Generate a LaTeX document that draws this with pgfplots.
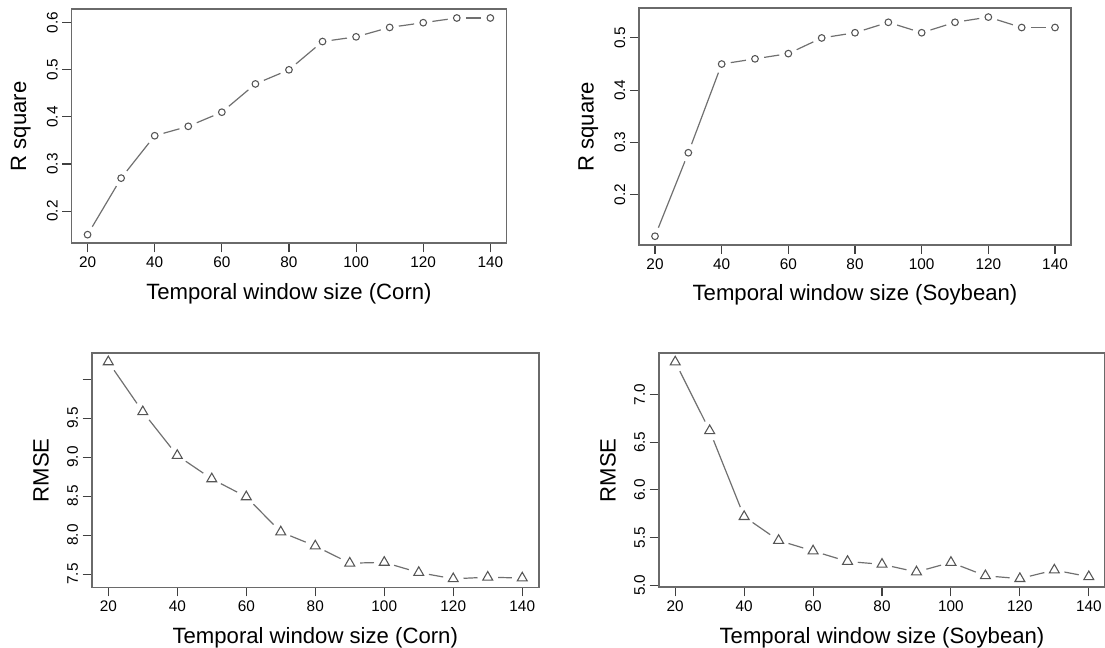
\documentclass[border=0pt]{standalone}
\usepackage{fontspec}
\setmainfont{Liberation Sans}
\usepackage{pgfplots}
\usepackage{pgfplotstable}
\pgfplotsset{compat=1.18}
\definecolor{lc}{HTML}{707070}
\definecolor{mc}{HTML}{555555}
\definecolor{bc}{HTML}{6A6A6A}

\pgfplotstableread{
x y
20 0.15
30 0.27
40 0.36
50 0.38
60 0.41
70 0.47
80 0.50
90 0.56
100 0.57
110 0.59
120 0.60
130 0.61
140 0.61
}\cornR
\pgfplotstableread{
x y
20 0.12
30 0.28
40 0.45
50 0.46
60 0.47
70 0.50
80 0.51
90 0.53
100 0.51
110 0.53
120 0.54
130 0.52
140 0.52
}\soyR
\pgfplotstableread{
x y
20 10.22
30 9.58
40 9.02
50 8.72
60 8.49
70 8.04
80 7.86
90 7.64
100 7.65
110 7.52
120 7.44
130 7.46
140 7.45
}\cornE
\pgfplotstableread{
x y
20 7.34
30 6.62
40 5.72
50 5.47
60 5.36
70 5.25
80 5.22
90 5.14
100 5.24
110 5.10
120 5.07
130 5.16
140 5.09
}\soyE

\pgfplotsset{
  rstyle/.style={
    scale only axis, axis on top,
    xmin=15.2, xmax=144.8,
    xtick={20,40,...,140},
    tick align=outside, major tick length=6.75pt,
    xtick pos=left, ytick pos=left,
    axis line style={bc, line width=1.3pt},
    every tick/.style={black!75, line width=0.8pt},
    /pgf/number format/assume math mode=true,
    ticklabel style={font=\fontsize{11.5}{13}\selectfont},
    yticklabel style={rotate=90, anchor=south},
    xticklabel style={anchor=north},
    label style={font=\fontsize{16.6}{19}\selectfont},
    xlabel style={at={([yshift=-37.5pt]axis description cs:0.5,0)}, anchor=center},
    ylabel style={at={([xshift=-38pt]axis description cs:0,0.5)}, anchor=center},
  },
  segc/.style={lc, line width=0.9pt, no marks, shorten >=6.9pt, shorten <=6.9pt},
  segt/.style={lc, line width=0.9pt, no marks, shorten >=7.7pt, shorten <=7.7pt},
  circ/.style={only marks, mark=o, mark size=2.5pt, mark options={mc, line width=0.8pt}},
  tri/.style={only marks, mark=triangle, mark size=4.3pt, mark options={mc, line width=0.8pt}},
}
\newcommand\segC[4]{\addplot[segc] coordinates {(#1,#2) (#3,#4)};}
\newcommand\segT[4]{\addplot[segt] coordinates {(#1,#2) (#3,#4)};}

\begin{document}
\begin{tikzpicture}
\path[use as bounding box] (0,0) rectangle (828.75pt,486pt);

\begin{axis}[rstyle, at={(53.6pt,303.5pt)}, anchor=south west,
  width=326.25pt, height=175.5pt,
  ymin=0.1316, ymax=0.6284,
  ytick={0.2,0.3,0.4,0.5,0.6}, yticklabels={0.2,0.3,0.4,0.5,0.6},
  xlabel={Temporal window size (Corn)}, ylabel={R square}]
\segC{20}{0.15}{30}{0.27}\segC{30}{0.27}{40}{0.36}\segC{40}{0.36}{50}{0.38}
\segC{50}{0.38}{60}{0.41}\segC{60}{0.41}{70}{0.47}\segC{70}{0.47}{80}{0.50}
\segC{80}{0.50}{90}{0.56}\segC{90}{0.56}{100}{0.57}\segC{100}{0.57}{110}{0.59}
\segC{110}{0.59}{120}{0.60}\segC{120}{0.60}{130}{0.61}\segC{130}{0.61}{140}{0.61}
\addplot[circ] table {\cornR};
\end{axis}

\begin{axis}[rstyle, at={(479.25pt,302.25pt)}, anchor=south west,
  width=324pt, height=177.5pt,
  ymin=0.1032, ymax=0.5568,
  ytick={0.2,0.3,0.4,0.5}, yticklabels={0.2,0.3,0.4,0.5},
  xlabel={Temporal window size (Soybean)}, ylabel={R square}]
\segC{20}{0.12}{30}{0.28}\segC{30}{0.28}{40}{0.45}\segC{40}{0.45}{50}{0.46}
\segC{50}{0.46}{60}{0.47}\segC{60}{0.47}{70}{0.50}\segC{70}{0.50}{80}{0.51}
\segC{80}{0.51}{90}{0.53}\segC{90}{0.53}{100}{0.51}\segC{100}{0.51}{110}{0.53}
\segC{110}{0.53}{120}{0.54}\segC{120}{0.54}{130}{0.52}\segC{130}{0.52}{140}{0.52}
\addplot[circ] table {\soyR};
\end{axis}

\begin{axis}[rstyle, at={(68.8pt,45.4pt)}, anchor=south west,
  width=335.3pt, height=175.7pt,
  ymin=7.3288, ymax=10.3312,
  ytick={7.5,8.0,8.5,9.0,9.5,10.0}, yticklabels={7.5,8.0,8.5,9.0,9.5,{}},
  xlabel={Temporal window size (Corn)}, ylabel={RMSE}]
\segT{20}{10.22}{30}{9.58}\segT{30}{9.58}{40}{9.02}\segT{40}{9.02}{50}{8.72}
\segT{50}{8.72}{60}{8.49}\segT{60}{8.49}{70}{8.04}\segT{70}{8.04}{80}{7.86}
\segT{80}{7.86}{90}{7.64}\segT{90}{7.64}{100}{7.65}\segT{100}{7.65}{110}{7.52}
\segT{110}{7.52}{120}{7.44}\segT{120}{7.44}{130}{7.46}\segT{130}{7.46}{140}{7.45}
\addplot[tri] table {\cornE};
\end{axis}

\begin{axis}[rstyle, at={(494pt,45.5pt)}, anchor=south west,
  width=335pt, height=175.5pt,
  ymin=4.979, ymax=7.431,
  ytick={5.0,5.5,6.0,6.5,7.0}, yticklabels={5.0,5.5,6.0,6.5,7.0},
  xlabel={Temporal window size (Soybean)}, ylabel={RMSE}]
\segT{20}{7.34}{30}{6.62}\segT{30}{6.62}{40}{5.72}\segT{40}{5.72}{50}{5.47}
\segT{50}{5.47}{60}{5.36}\segT{60}{5.36}{70}{5.25}\segT{70}{5.25}{80}{5.22}
\segT{80}{5.22}{90}{5.14}\segT{90}{5.14}{100}{5.24}\segT{100}{5.24}{110}{5.10}
\segT{110}{5.10}{120}{5.07}\segT{120}{5.07}{130}{5.16}\segT{130}{5.16}{140}{5.09}
\addplot[tri] table {\soyE};
\end{axis}
\end{tikzpicture}
\end{document}
